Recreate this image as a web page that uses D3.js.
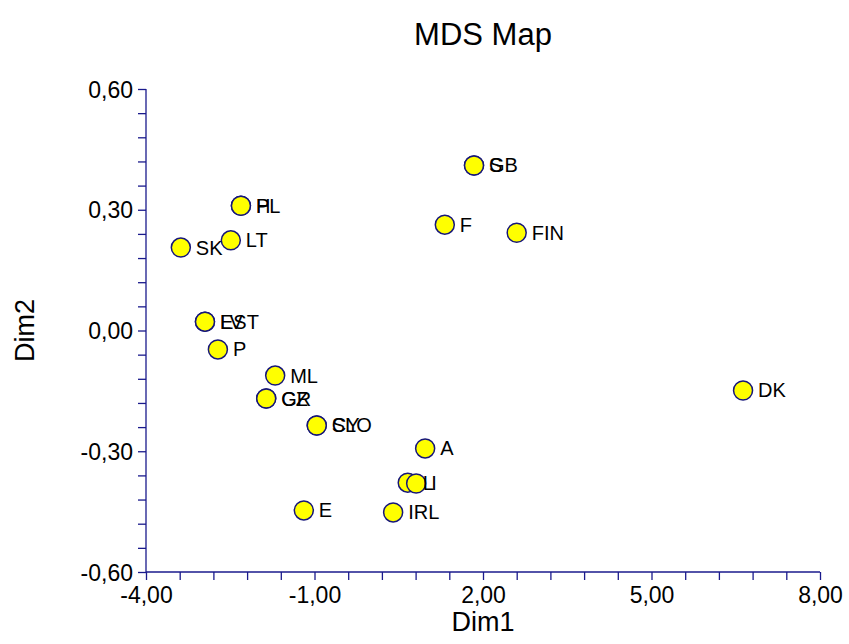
<!DOCTYPE html>
<html>
<head>
<meta charset="utf-8">
<script src="https://cdn.jsdelivr.net/npm/d3@7"></script>
<style>
  body { margin: 0; background: #fff; }
  text { font-family: "Liberation Sans", Arial, sans-serif; fill: #000; }
</style>
</head>
<body>
<svg id="chart"></svg>
<script>
(function() {

  // country codes and their MDS coordinates
  const labels = ['SK', 'PL', 'H', 'LT', 'EST', 'LV', 'P', 'ML', 'GR', 'CZ', 'SLO', 'CY',
    'E', 'IRL', 'L', 'I', 'A', 'F', 'S', 'GB', 'FIN', 'DK'];
  const dim1 = [-3.38, -2.31, -2.31, -2.49, -2.95, -2.95, -2.72, -1.70, -1.86, -1.86, -0.96, -0.96,
    -1.19, 0.40, 0.66, 0.81, 0.97, 1.32, 1.84, 1.84, 2.60, 6.63];
  const dim2 = [0.206, 0.310, 0.310, 0.224, 0.022, 0.022, -0.047, -0.112, -0.169, -0.169, -0.236, -0.236,
    -0.447, -0.452, -0.378, -0.380, -0.293, 0.263, 0.410, 0.410, 0.243, -0.149];

  const xTicks = [-4, -1, 2, 5, 8];
  const yTicks = [-0.6, -0.3, 0, 0.3, 0.6];

  const title = 'MDS Map';
  const width = 849;
  const height = 644;
  const margin = { left: 146, right: 29, top: 89, bottom: 72 };
  const axisColor = '#1a1a8c';

  const data = labels.map(function(d, i) {
    return { name: d, x: dim1[i], y: dim2[i] };
  });

  const svg = d3.select('#chart')
    .attr('width', width)
    .attr('height', height);

  const x = d3.scaleLinear().domain([-4, 8]).range([margin.left, width - margin.right]);
  const y = d3.scaleLinear().domain([-0.6, 0.6]).range([height - margin.bottom, margin.top]);

  const fmt = function(d) {
    return d3.format('.2f')(d).replace('.', ',').replace('−', '-');
  };

  // minor ticks (4 between each major)
  const xMinor = d3.range(-4, 8.0001, 0.6);
  const yMinor = d3.range(-0.6, 0.6001, 0.06);

  const xAxis = svg.append('g')
    .attr('transform', 'translate(0,' + y(-0.6) + ')')
    .call(d3.axisBottom(x).tickValues(xMinor).tickSize(8).tickFormat(''));
  const xLabels = svg.append('g')
    .attr('transform', 'translate(0,' + y(-0.6) + ')')
    .call(d3.axisBottom(x).tickValues(xTicks).tickSize(0).tickPadding(15).tickFormat(fmt));

  const yAxis = svg.append('g')
    .attr('transform', 'translate(' + x(-4) + ',0)')
    .call(d3.axisLeft(y).tickValues(yMinor).tickSize(8).tickFormat(''));
  const yLabels = svg.append('g')
    .attr('transform', 'translate(' + x(-4) + ',0)')
    .call(d3.axisLeft(y).tickValues(yTicks).tickSize(0).tickPadding(13).tickFormat(fmt));

  [xAxis, yAxis].forEach(function(g) {
    g.selectAll('path, line').attr('stroke', axisColor).attr('stroke-width', 1.3);
    g.select('.domain').attr('d', g === xAxis
      ? 'M' + x(-4) + ',0H' + x(8)
      : 'M0,' + y(0.6) + 'V' + y(-0.6));
  });
  [xLabels, yLabels].forEach(function(g) {
    g.select('.domain').remove();
    g.selectAll('text').style('font-size', '23px').attr('fill', '#000');
  });
  yLabels.selectAll('text').attr('dy', '0.35em');

  // points
  const pts = svg.append('g').attr('class', 'points');
  pts.selectAll('circle')
    .data(data)
    .enter()
    .append('circle')
    .attr('cx', function(d) { return x(d.x); })
    .attr('cy', function(d) { return y(d.y); })
    .attr('r', 9.5)
    .attr('fill', '#ffff00')
    .attr('stroke', '#16167a')
    .attr('stroke-width', 1.5);

  pts.selectAll('text')
    .data(data)
    .enter()
    .append('text')
    .attr('x', function(d) { return x(d.x) + 15; })
    .attr('y', function(d) { return y(d.y); })
    .attr('dy', '0.35em')
    .style('font-size', '20px')
    .text(function(d) { return d.name; });

  svg.append('text')
    .attr('x', (margin.left + width - margin.right) / 2)
    .attr('y', 45)
    .attr('text-anchor', 'middle')
    .style('font-size', '31px')
    .text(title);

  svg.append('text')
    .attr('x', (margin.left + width - margin.right) / 2)
    .attr('y', 631)
    .attr('text-anchor', 'middle')
    .style('font-size', '27px')
    .text('Dim1');

  svg.append('text')
    .attr('transform', 'translate(34,' + ((margin.top + height - margin.bottom) / 2) + ') rotate(-90)')
    .attr('text-anchor', 'middle')
    .style('font-size', '27px')
    .text('Dim2');
})();
</script>
</body>
</html>
